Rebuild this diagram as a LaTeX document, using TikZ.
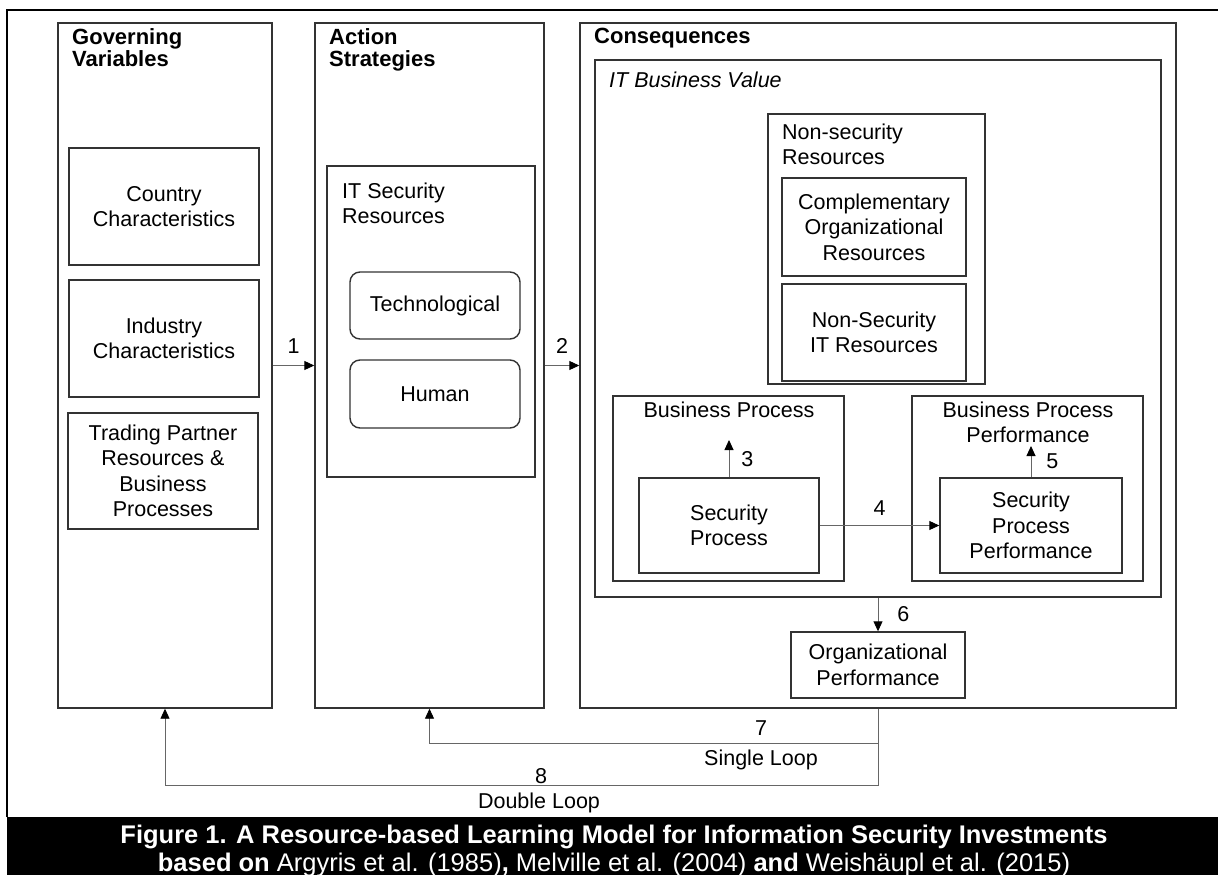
\documentclass[tikz,border=0pt]{standalone}
\usepackage{fontspec}
\setmainfont{Liberation Sans}
\usetikzlibrary{arrows.meta, positioning}

\newcommand{\txtfont}{\fontsize{21.5}{25.5}\selectfont}
\newcommand{\ttlfont}{\fontsize{22}{22.5}\selectfont\bfseries}
\tikzset{
  box/.style={draw=black!80, line width=1.4pt, inner sep=0pt, align=center, font=\txtfont},
  ttl/.style={anchor=north west, align=left, inner sep=0pt, font=\ttlfont},
  sub/.style={anchor=north west, align=left, inner sep=0pt, font=\txtfont},
  flow/.style={draw=black!60, line width=0.9pt, -{Triangle[length=10pt, width=9pt, color=black]}},
  lbl/.style={inner sep=0pt, font=\txtfont}
}

\begin{document}
\begin{tikzpicture}[x=1pt, y=-1pt]
  \useasboundingbox (0,0) rectangle (1218,875);

  % frame and caption
  \draw[line width=1.6pt] (7,817) -- (7,10) -- (1218,10);
  \fill (7,817) rectangle (1218,875);
  \node[text=white, inner sep=0pt, anchor=base, font=\fontsize{25.5}{28}\selectfont\bfseries] (cap1) at (614,843)
    {Figure 1. A Resource-based Learning Model for Information Security Investments};
  \node[text=white, inner sep=0pt, anchor=base, font=\fontsize{25.5}{28}\selectfont] (cap2) at (614,871)
    {\textbf{based on} Argyris et al. (1985)\textbf{,} Melville et al. (2004) \textbf{and} Weishäupl et al. (2015)};

  % governing variables
  \node[box, minimum width=214pt, minimum height=685pt] (gov) at (165,365.5) {};
  \node[ttl] (gov-title) at (72,28) {Governing\\Variables};
  \node[box, minimum width=190pt, minimum height=117pt] (country) at (164,206.5) {Country\\Characteristics};
  \node[box, minimum width=190pt, minimum height=117pt] (industry) at (164,338.5) {Industry\\Characteristics};
  \node[box, minimum width=190pt, minimum height=116pt] (trading) at (163,471) {Trading Partner\\Resources \&\\Business\\Processes};

  % action strategies
  \node[box, minimum width=229pt, minimum height=685pt] (act) at (429.5,365.5) {};
  \node[ttl] (act-title) at (329,28) {Action\\Strategies};
  \node[box, minimum width=208pt, minimum height=311pt] (itsec) at (431,321.5) {};
  \node[sub] (itsec-title) at (342,182.5) {IT Security\\Resources};
  \node[box, rounded corners=10pt, minimum width=170pt, minimum height=67pt] (tech) at (435,305.5) {Technological};
  \node[box, rounded corners=10pt, minimum width=170pt, minimum height=68pt] (human) at (435,394) {Human};

  % consequences
  \node[box, minimum width=596pt, minimum height=685pt] (cons) at (878,365.5) {};
  \node[ttl] (cons-title) at (594,28) {Consequences};
  \node[box, minimum width=566pt, minimum height=537pt] (itbv) at (878,328.5) {};
  \node[sub, font=\txtfont\itshape] (itbv-title) at (609,71.5) {IT Business Value};

  \node[box, minimum width=217pt, minimum height=270pt] (nonsec) at (876.5,249) {};
  \node[sub] (nonsec-title) at (782,123.5) {Non-security\\Resources};
  \node[box, minimum width=184pt, minimum height=98pt] (compl) at (874,227) {Complementary\\Organizational\\Resources};
  \node[box, minimum width=184pt, minimum height=97pt] (nonsecit) at (874,332.5) {Non-Security\\IT Resources};

  \node[box, minimum width=231pt, minimum height=185pt] (bp) at (728.5,488.5) {};
  \node[lbl, anchor=base] (bp-title) at (729,417) {Business Process};
  \node[box, minimum width=180pt, minimum height=95pt] (sp) at (729,525.5) {Security\\Process};
  \coordinate (bp-in) at (729,440);

  \node[box, minimum width=231pt, minimum height=185pt] (bpp) at (1027.5,488.5) {};
  \node[lbl, anchor=north, align=center] (bpp-title) at (1028,401.5) {Business Process\\Performance};
  \node[box, minimum width=182pt, minimum height=95pt] (spp) at (1031,525.5) {Security\\Process\\Performance};
  \coordinate (bpp-in) at (1031,446);

  \node[box, minimum width=174pt, minimum height=66pt] (org) at (878,665) {Organizational\\Performance};

  % connectors
  \draw[flow] (gov.east) -- (act.west) node[lbl, midway, above=12pt] (l1) {1};
  \draw[flow] (act.east) -- (cons.west) node[lbl, midway, above=12pt] (l2) {2};
  \draw[flow] (sp.north) -- (bp-in) node[lbl, midway, right=12pt] (l3) {3};
  \draw[flow] (sp.east) -- (spp.west) node[lbl, midway, above=10pt] (l4) {4};
  \draw[flow] (spp.north) -- (bpp-in) node[lbl, midway, right=15pt] (l5) {5};
  \draw[flow] (itbv.south) -- (org.north) node[lbl, midway, right=19pt] (l6) {6};

  % learning loops
  \coordinate (single) at (878,743);
  \coordinate (double) at (878,785);
  \draw[flow] (cons.south) -- (single) -| (act.south);
  \draw[flow] (cons.south) -- (double) -| (gov.south);
  \node[lbl, above=7pt] (l7) at (761,743) {7};
  \node[lbl, below=7pt] (single-lbl) at (761,743) {Single Loop};
  \node[lbl, above=1pt] (l8) at (541,785) {8};
  \node[lbl, below=8pt] (double-lbl) at (539,785) {Double Loop};
\end{tikzpicture}
\end{document}
